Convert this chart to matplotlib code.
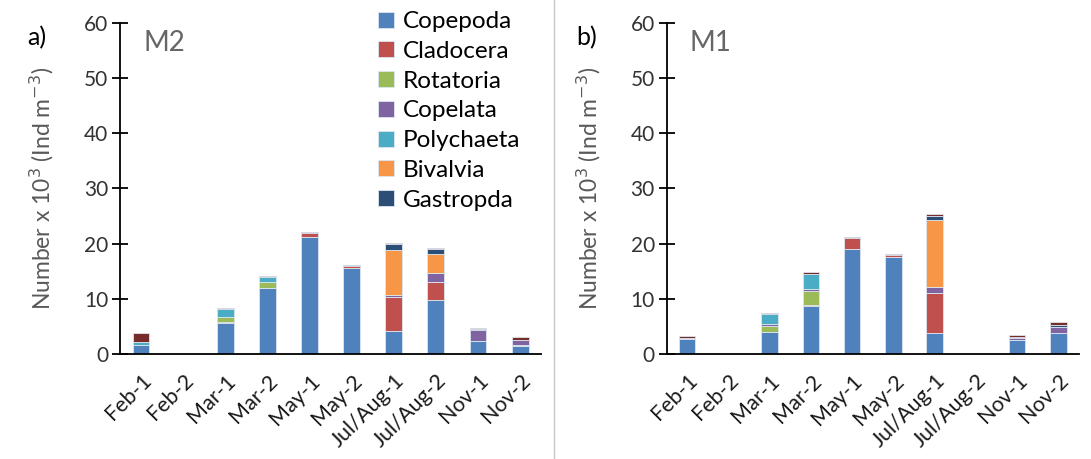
import numpy as np
import matplotlib.pyplot as plt
import matplotlib.transforms as mtransforms

plt.rcParams['font.family'] = ['Lato', 'DejaVu Sans']

# =========================
# Dados (x10^3 ind m^-3)
# =========================
amostras = ['Feb-1', 'Feb-2', 'Mar-1', 'Mar-2', 'May-1', 'May-2',
            'Jul/Aug-1', 'Jul/Aug-2', 'Nov-1', 'Nov-2']
grupos = ['Copepoda', 'Cladocera', 'Rotatoria', 'Copelata',
          'Polychaeta', 'Bivalvia', 'Gastropda', 'Outros']
cores = ['#4F81BD', '#C0504D', '#9BBB59', '#8064A2',
         '#4BACC6', '#F79646', '#2C4D75', '#772C2A']

# M2
m2_copepoda   = [1.6, 0, 5.6, 11.9, 21.2, 15.6, 4.2, 9.8, 2.3, 1.4]
m2_cladocera  = [0.0, 0, 0.1, 0.0, 0.8, 0.4, 6.1, 3.2, 0.0, 0.0]
m2_rotatoria  = [0.1, 0, 0.9, 1.1, 0.0, 0.0, 0.0, 0.0, 0.0, 0.25]
m2_copelata   = [0.0, 0, 0.0, 0.0, 0.0, 0.0, 0.4, 1.6, 2.1, 0.9]
m2_polychaeta = [0.4, 0, 1.6, 0.9, 0.0, 0.0, 0.0, 0.0, 0.0, 0.0]
m2_bivalvia   = [0.0, 0, 0.0, 0.0, 0.0, 0.0, 8.1, 3.5, 0.0, 0.0]
m2_gastropda  = [0.1, 0, 0.0, 0.0, 0.0, 0.0, 1.1, 0.85, 0.1, 0.0]
m2_outros     = [1.5, 0, 0.2, 0.3, 0.1, 0.1, 0.2, 0.2, 0.15, 0.5]

# M1
m1_copepoda   = [2.7, 0, 3.9, 8.6, 19.1, 17.5, 3.75, 0, 2.6, 3.75]
m1_cladocera  = [0.0, 0, 0.0, 0.3, 1.9, 0.4, 7.2, 0, 0.0, 0.0]
m1_rotatoria  = [0.0, 0, 1.2, 2.55, 0.0, 0.0, 0.0, 0, 0.0, 0.0]
m1_copelata   = [0.0, 0, 0.3, 0.4, 0.0, 0.0, 1.15, 0, 0.35, 1.1]
m1_polychaeta = [0.15, 0, 1.75, 2.7, 0.0, 0.0, 0.0, 0, 0.0, 0.0]
m1_bivalvia   = [0.0, 0, 0.0, 0.0, 0.0, 0.0, 12.1, 0, 0.0, 0.0]
m1_gastropda  = [0.0, 0, 0.0, 0.0, 0.0, 0.0, 0.75, 0, 0.1, 0.3]
m1_outros     = [0.4, 0, 0.2, 0.3, 0.2, 0.25, 0.4, 0, 0.45, 0.65]

dados_m2 = [m2_copepoda, m2_cladocera, m2_rotatoria, m2_copelata,
            m2_polychaeta, m2_bivalvia, m2_gastropda, m2_outros]
dados_m1 = [m1_copepoda, m1_cladocera, m1_rotatoria, m1_copelata,
            m1_polychaeta, m1_bivalvia, m1_gastropda, m1_outros]

# =========================
# Figura
# =========================
fig = plt.figure(figsize=(10.91, 4.59), dpi=100)
ax1 = fig.add_axes([0.110, 0.229, 0.386, 0.721])
ax2 = fig.add_axes([0.611, 0.229, 0.378, 0.721])

x = np.arange(len(amostras))


def painel(ax, dados, letra, estacao, legenda=False):
    base = np.zeros(len(amostras))
    for serie, cor, nome in zip(dados, cores, grupos):
        v = np.array(serie)
        rotulo = nome if nome != 'Outros' else '_nolegend_'
        ax.bar(x, v, 0.4, bottom=base, color=cor, edgecolor='#dce6f0',
               linewidth=0.6, label=rotulo)
        base += v
    ax.set_xlim(-0.5, 9.5)
    ax.set_ylim(0, 60)
    ax.set_yticks(range(0, 61, 10))
    ax.set_xticks(x)
    ax.set_xticklabels(amostras, rotation=45, ha='right',
                       rotation_mode='anchor', fontsize=15.5, color='#1a1a1a')
    desloc = mtransforms.ScaledTranslation(6 / 72, 0, fig.dpi_scale_trans)
    for lab in ax.get_xticklabels():
        lab.set_transform(lab.get_transform() + desloc)
    ax.tick_params(axis='x', length=0, pad=12)
    ax.tick_params(axis='y', direction='inout', length=11, width=1.3,
                   labelsize=15, labelcolor='#333333', pad=3)
    for s in ['top', 'right']:
        ax.spines[s].set_visible(False)
    ax.spines['left'].set_linewidth(1.3)
    ax.spines['bottom'].set_linewidth(1.3)
    ax.set_ylabel('Number x 10$^3$ (Ind m$^{-3}$)', fontsize=16.5,
                  color='#595959', labelpad=20)
    ax.text(0.055, 0.94, estacao, transform=ax.transAxes, fontsize=20,
            color='#666666', va='center')
    ax.text(-0.22, 0.955, letra, transform=ax.transAxes, fontsize=18,
            va='center', ha='left')
    if legenda:
        ax.legend(loc='upper left', bbox_to_anchor=(0.59, 1.065), frameon=False,
                  fontsize=17.5, handlelength=0.65, handleheight=0.65,
                  handletextpad=0.35, labelspacing=0.36, borderaxespad=0)


painel(ax1, dados_m2, 'a)', 'M2', legenda=True)
painel(ax2, dados_m1, 'b)', 'M1')

# linha separadora
fig.add_artist(plt.Line2D([0.508, 0.508], [0.0, 1.0], color='#c8c8c8',
                          linewidth=1))

plt.savefig('out.png', dpi=100)
